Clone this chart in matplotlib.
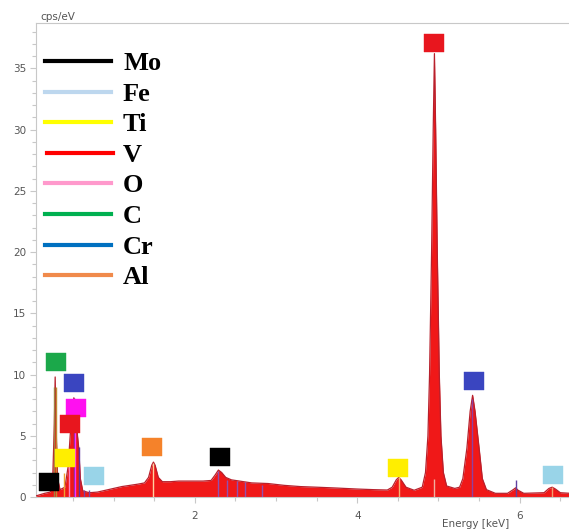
import matplotlib.pyplot as plt
from matplotlib.lines import Line2D
from matplotlib.ticker import MultipleLocator

# spectrum outline (keV, cps/eV)
energy = [0.05, 0.15, 0.22, 0.25, 0.27, 0.28, 0.29, 0.31, 0.34, 0.40,
          0.44, 0.47, 0.50, 0.51, 0.53, 0.555, 0.57, 0.59, 0.62, 0.70,
          0.80, 0.90, 1.00, 1.10, 1.20, 1.30, 1.38, 1.43, 1.47, 1.49,
          1.51, 1.55, 1.60, 1.70, 1.80, 1.90, 2.00, 2.10, 2.20, 2.25,
          2.29, 2.33, 2.38, 2.45, 2.55, 2.70, 2.90, 3.10, 3.30, 3.50,
          3.75, 4.00, 4.20, 4.37, 4.43, 4.48, 4.51, 4.54, 4.60, 4.70,
          4.80, 4.84, 4.87, 4.89, 4.915, 4.935, 4.95, 4.965, 4.985, 5.01,
          5.03, 5.06, 5.10, 5.20, 5.26, 5.30, 5.35, 5.39, 5.42, 5.45,
          5.50, 5.54, 5.59, 5.70, 5.85, 5.92, 5.95, 5.98, 6.05, 6.30,
          6.36, 6.40, 6.44, 6.50, 6.62]
cps = [0.1, 0.3, 0.4, 1.5, 6.0, 9.8, 6.0, 1.5, 0.6, 0.8,
       2.5, 5.5, 7.5, 8.1, 7.5, 5.0, 4.0, 1.5, 0.5, 0.35,
       0.4, 0.55, 0.7, 0.85, 0.95, 1.05, 1.15, 1.6, 2.6, 2.85,
       2.6, 1.6, 1.25, 1.25, 1.3, 1.3, 1.3, 1.3, 1.35, 1.8,
       2.2, 2.0, 1.6, 1.4, 1.3, 1.15, 1.1, 0.95, 0.85, 0.8,
       0.73, 0.65, 0.6, 0.57, 0.8, 1.4, 1.6, 1.4, 0.8, 0.55,
       0.8, 2.0, 5.0, 10.0, 20.0, 30.0, 36.2, 30.0, 20.0, 10.0,
       5.0, 2.0, 0.9, 0.7, 0.8, 1.5, 4.0, 7.0, 8.3, 7.0,
       4.0, 1.5, 0.6, 0.3, 0.3, 0.6, 0.75, 0.55, 0.3, 0.35,
       0.7, 0.8, 0.65, 0.35, 0.3]

# element line markers inside the spectrum
line_e = [0.265, 0.295, 0.39, 0.45, 0.51, 0.525, 0.57, 0.64, 0.70,
          1.49, 2.29, 2.39, 2.52, 2.62, 2.83, 4.51, 4.95, 5.41, 5.95, 6.40]
line_h = [9.0, 9.0, 2.0, 3.0, 8.1, 7.0, 4.1, 0.6, 0.6,
          2.8, 2.1, 1.4, 1.3, 1.2, 1.0, 1.6, 1.5, 8.0, 1.4, 0.8]
line_c = ['#a08040', '#c08a30', '#f0a030', '#ff80c0', '#8030a0', '#ff30ff',
          '#6030a0', '#8040a0', '#8040a0', '#ffd0a0', '#9050b0', '#9050b0',
          '#9050b0', '#9050b0', '#9050b0', '#f5b070', '#f0b0a0', '#9040a0',
          '#6040a0', '#f0a070']

# coloured label boxes
box_e = [0.29, 0.51, 0.54, 0.46, 0.40, 0.20, 0.76, 1.47, 2.31, 4.50, 4.95, 5.44, 6.41]
box_y = [11.0, 9.3, 7.26, 5.95, 3.2, 1.22, 1.7, 4.08, 3.26, 2.37, 37.1, 9.46, 1.8]
box_c = ['#1ba84a', '#3a45c0', '#ff10f0', '#e8161e', '#ffee00', '#000000',
         '#99d4e8', '#f5822a', '#000000', '#ffee00', '#e8161e', '#3a45c0', '#99d4e8']

legend_names = ['Mo', 'Fe', 'Ti', 'V', 'O', 'C', 'Cr', 'Al']
legend_colors = ['#000000', '#bdd7ee', '#ffff00', '#ff0000', '#ff99cc',
                 '#00b050', '#0070c0', '#f08a4b']

W, H = 569, 531
fig = plt.figure(figsize=(W / 100, H / 100), dpi=100)
ax = fig.add_axes([36 / W, (H - 497) / H, (W - 36) / W, (497 - 23) / H])

ax.fill_between(energy, cps, 0, color='#f01818', lw=0, zorder=2)
ax.plot(energy, cps, color='#b8202c', lw=0.9, zorder=3)
ax.vlines(line_e, 0, line_h, colors=line_c, lw=1.0, zorder=4)

box = [(-1.17, -1), (1.17, -1), (1.17, 1), (-1.17, 1), (-1.17, -1)]
for e, y, c in zip(box_e, box_y, box_c):
    ax.plot(e, y, marker=box, ms=15, color=c, mec=c, mew=0.3, ls='none', zorder=5)

ax.set_xlim(0.044, 6.607)
ax.set_ylim(0, 38.7)
ax.xaxis.set_major_locator(MultipleLocator(2))
ax.xaxis.set_minor_locator(MultipleLocator(0.5))
ax.yaxis.set_major_locator(MultipleLocator(5))
ax.yaxis.set_minor_locator(MultipleLocator(1))
ax.tick_params(which='both', direction='out', color='#c8c8c8', labelcolor='#555555',
               labelsize=7.5, width=0.8)
ax.tick_params(which='major', length=4, pad=3)
ax.tick_params(which='minor', length=3)
ax.tick_params(axis='x', which='both', pad=6)
for side in ['left', 'bottom', 'top']:
    ax.spines[side].set_color('#c8c8c8')
ax.spines['right'].set_visible(False)

fig.text(40 / W, 1 - 17 / H, 'cps/eV', fontsize=7.5, color='#555555', va='center')
fig.text(476 / W, 1 - 524 / H, 'Energy [keV]', fontsize=7.5, color='#555555',
         ha='center', va='center')

# hand placed legend
for i, (name, c) in enumerate(zip(legend_names, legend_colors)):
    yp = 61 + 30.6 * i
    x0 = 47 if name == 'V' else 45
    fig.add_artist(Line2D([x0 / W, (x0 + 66) / W], [1 - yp / H, 1 - yp / H],
                          color=c, lw=3, transform=fig.transFigure))
    fig.text(123 / W, 1 - (yp + 9) / H, name, fontsize=19, fontweight='bold',
             family='Liberation Serif', va='baseline')

fig.savefig('out.png', dpi=100)
